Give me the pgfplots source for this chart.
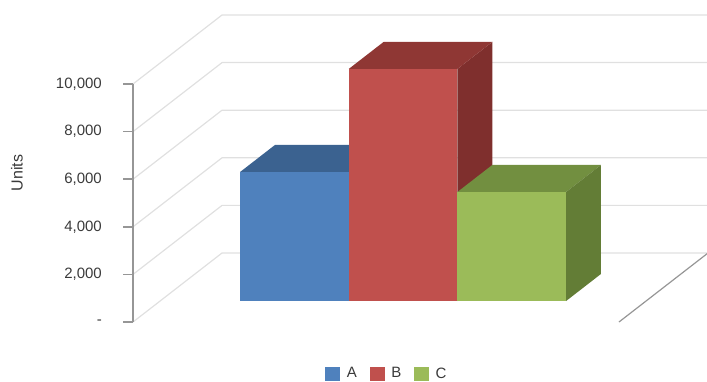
\documentclass[border=0pt]{standalone}
\usepackage{fontspec}
\setmainfont{Liberation Sans}
\usepackage{pgfplots}
\pgfplotsset{compat=1.18}
\definecolor{gridgrey}{HTML}{E0E0E0}
\definecolor{axisgrey}{HTML}{969696}
\definecolor{labelgrey}{HTML}{3A3A3A}
\definecolor{afront}{HTML}{4F81BD}
\definecolor{atop}{HTML}{3B6290}
\definecolor{bfront}{HTML}{C0504D}
\definecolor{btop}{HTML}{8F3734}
\definecolor{bside}{HTML}{7F2F2D}
\definecolor{cfront}{HTML}{9BBB59}
\definecolor{ctop}{HTML}{728F40}
\definecolor{cside}{HTML}{637D36}
\begin{document}
\begin{tikzpicture}[x=1pt,y=1pt]
\path[use as bounding box] (0,0) rectangle (707,381);
% Oblique three-dimensional scene: x = category slot, y = depth, z = units
\begin{axis}[
  anchor=origin, at={(213pt,59pt)},
  x={(108.67pt,0pt)}, y={(89pt,69pt)}, z={(0pt,0.0238pt)},
  xmin=-0.736, xmax=3.736, ymin=0, ymax=1, zmin=0, zmax=10000,
  hide axis, clip=false,
]
% wall and side gridlines
\pgfplotsinvokeforeach{0,2000,4000,6000,8000,10000}{
  \addplot3[gridgrey, line width=1.2pt, forget plot] coordinates {(-0.736,0,#1) (-0.736,1,#1) (3.736,1,#1)};
}
% floor edge on the right
\addplot3[axisgrey, line width=1.2pt, forget plot] coordinates {(3.736,0,0) (3.736,1,0)};
% bar A
\addplot3[fill=atop, draw=none, forget plot] coordinates {(0,0.304,5420) (1,0.304,5420) (1,0.696,5420) (0,0.696,5420)};
\addplot3[fill=afront, draw=none, forget plot] coordinates {(0,0.304,0) (1,0.304,0) (1,0.304,5420) (0,0.304,5420)};
% bar B
\addplot3[fill=bside, draw=none, forget plot] coordinates {(2,0.304,0) (2,0.696,0) (2,0.696,9750) (2,0.304,9750)};
\addplot3[fill=btop, draw=none, forget plot] coordinates {(1,0.304,9750) (2,0.304,9750) (2,0.696,9750) (1,0.696,9750)};
\addplot3[fill=bfront, draw=none, forget plot] coordinates {(1,0.304,0) (2,0.304,0) (2,0.304,9750) (1,0.304,9750)};
% bar C
\addplot3[fill=ctop, draw=none, forget plot] coordinates {(2,0.304,4580) (3,0.304,4580) (3,0.696,4580) (2,0.696,4580)};
\addplot3[fill=cside, draw=none, forget plot] coordinates {(3,0.304,0) (3,0.696,0) (3,0.696,4580) (3,0.304,4580)};
\addplot3[fill=cfront, draw=none, forget plot] coordinates {(2,0.304,0) (3,0.304,0) (3,0.304,4580) (2,0.304,4580)};
\end{axis}
% Value axis and legend
\begin{axis}[
  anchor=south west, at={(133pt,59pt)},
  scale only axis, width=486pt, height=238pt,
  xmin=0, xmax=1, ymin=0, ymax=10000,
  axis x line=none, axis y line=left,
  axis line style={axisgrey, line width=1.5pt, -},
  xtick=\empty,
  ytick={0,2000,4000,6000,8000,10000},
  yticklabels={-\hspace{13pt},{2,000},{4,000},{6,000},{8,000},{10,000}},
  scaled y ticks=false,
  tick align=outside, major tick length=10pt,
  ytick style={axisgrey, line width=1.5pt},
  yticklabel style={font=\fontsize{15}{18}\selectfont, text=labelgrey, inner sep=0pt, xshift=-21pt},
  ylabel={Units}, ylabel style={font=\fontsize{16}{18}\selectfont, text=labelgrey, at={(axis description cs:-0.2387,0.626)}, anchor=center},
  legend style={at={(axis description cs:0.5226,-0.2165)}, anchor=center, draw=none, fill=none,
    font=\fontsize{15}{17}\selectfont, text=labelgrey, inner sep=0pt,
    /tikz/every odd column/.append style={column sep=5pt},
    /tikz/every even column/.append style={column sep=11pt}},
  legend columns=3,
  legend cell align=left,
  legend image code/.code={\fill[#1] (0pt,-6.5pt) rectangle (14pt,6.5pt);},
]
\addlegendimage{afront}\addlegendentry{A}
\addlegendimage{bfront}\addlegendentry{B}
\addlegendimage{cfront}\addlegendentry{C}
\end{axis}
\end{tikzpicture}
\end{document}
